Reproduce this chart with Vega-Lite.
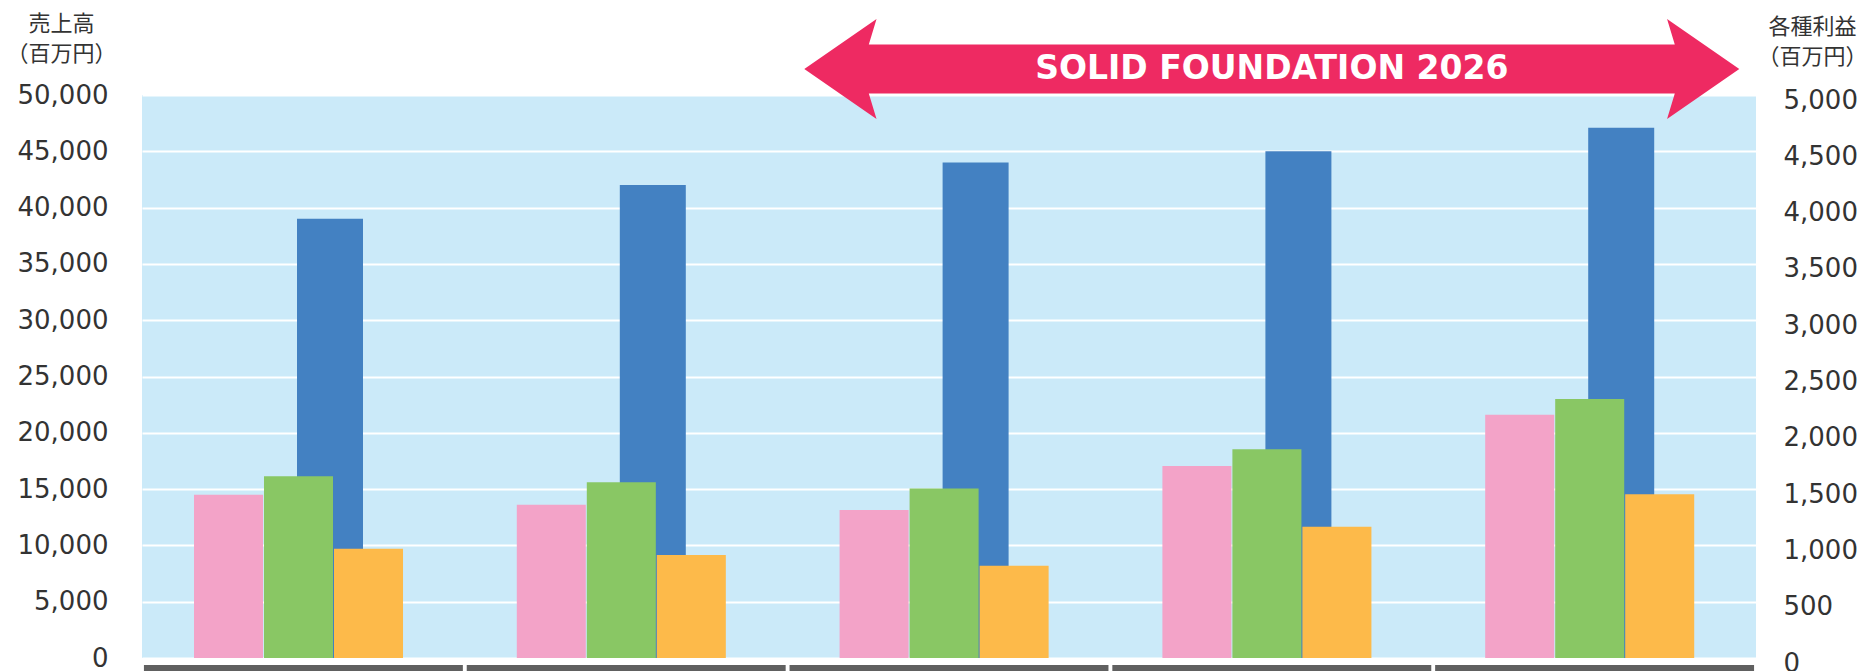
{
  "$schema": "https://vega.github.io/schema/vega-lite/v6.json",
  "width": 1614,
  "height": 563,
  "autosize": "none",
  "padding": {"left": 142, "top": 95, "right": 112, "bottom": 13},
  "background": "white",
  "config": {"view": {"fill": "#CBEAF9", "stroke": null}},
  "data": {"values": [
    {"year": "2022", "series": "売上高", "value": 39000},
    {"year": "2023", "series": "売上高", "value": 42000},
    {"year": "2024", "series": "売上高", "value": 44000},
    {"year": "2025", "series": "売上高", "value": 45000},
    {"year": "2026", "series": "売上高", "value": 47100},
    {"year": "2022", "series": "営業利益", "value": 1450},
    {"year": "2023", "series": "営業利益", "value": 1360},
    {"year": "2024", "series": "営業利益", "value": 1315},
    {"year": "2025", "series": "営業利益", "value": 1705},
    {"year": "2026", "series": "営業利益", "value": 2160},
    {"year": "2022", "series": "経常利益", "value": 1615},
    {"year": "2023", "series": "経常利益", "value": 1560},
    {"year": "2024", "series": "経常利益", "value": 1505},
    {"year": "2025", "series": "経常利益", "value": 1855},
    {"year": "2026", "series": "経常利益", "value": 2300},
    {"year": "2022", "series": "当期純利益", "value": 970},
    {"year": "2023", "series": "当期純利益", "value": 915},
    {"year": "2024", "series": "当期純利益", "value": 820},
    {"year": "2025", "series": "当期純利益", "value": 1165},
    {"year": "2026", "series": "当期純利益", "value": 1455}
  ]},
  "encoding": {
    "x": {"field": "year", "type": "nominal", "scale": {"domain": ["2022", "2023", "2024", "2025", "2026"], "paddingInner": 0, "paddingOuter": 0}, "axis": null}
  },
  "layer": [
    {
      "transform": [{"filter": "datum.series === '売上高'"}],
      "mark": {"type": "bar", "color": "#4381C2"},
      "encoding": {
        "xOffset": {"field": "series", "type": "nominal", "scale": {"paddingInner": 0.486, "paddingOuter": 1, "align": 0.6036}},
        "y": {
          "field": "value", "type": "quantitative", "stack": null,
          "scale": {"domain": [0, 50000], "nice": false},
          "axis": {
            "orient": "left",
            "values": [0, 5000, 10000, 15000, 20000, 25000, 30000, 35000, 40000, 45000, 50000],
            "format": ",d",
            "domain": false, "ticks": false,
            "labelFont": "DejaVu Sans", "labelFontSize": 26, "labelColor": "#333333", "labelPadding": 34,
            "grid": true, "gridColor": "#FFFFFF", "gridWidth": 2,
            "title": ["売上高", "（百万円）"],
            "titleFont": "Noto Sans CJK JP", "titleFontSize": 22, "titleFontWeight": "normal", "titleColor": "#333333",
            "titleAngle": 0, "titleAlign": "center", "titleBaseline": "middle", "titleLineHeight": 30,
            "titleX": -81, "titleY": -72
          }
        }
      }
    },
    {
      "transform": [{"filter": "datum.series !== '売上高'"}],
      "mark": {"type": "bar"},
      "encoding": {
        "xOffset": {"field": "series", "type": "nominal", "sort": ["営業利益", "経常利益", "当期純利益"], "scale": {"paddingInner": 0.014, "paddingOuter": 0.8127, "align": 0.457}},
        "y": {
          "field": "value", "type": "quantitative", "stack": null,
          "scale": {"domain": [0, 5000], "nice": false},
          "axis": {
            "orient": "right",
            "values": [0, 500, 1000, 1500, 2000, 2500, 3000, 3500, 4000, 4500, 5000],
            "format": ",d",
            "domain": false, "ticks": false, "grid": false,
            "labelFont": "DejaVu Sans", "labelFontSize": 26, "labelColor": "#333333", "labelPadding": 27, "labelOffset": 5,
            "title": ["各種利益", "（百万円）"],
            "titleFont": "Noto Sans CJK JP", "titleFontSize": 22, "titleFontWeight": "normal", "titleColor": "#333333",
            "titleAngle": 0, "titleAlign": "center", "titleBaseline": "middle", "titleLineHeight": 30,
            "titleX": 56, "titleY": -69
          }
        },
        "color": {"field": "series", "type": "nominal", "scale": {"domain": ["営業利益", "経常利益", "当期純利益"], "range": ["#F3A3C8", "#89C764", "#FDBA4A"]}, "legend": null}
      }
    },
    {
      "transform": [{"filter": "datum.series === '売上高'"}],
      "mark": {"type": "bar", "color": "#606060", "width": {"band": 0.988}},
      "encoding": {
        "y": {"datum": -620, "type": "quantitative", "scale": {"domain": [0, 50000], "nice": false}, "axis": null},
        "y2": {"datum": -1155}
      }
    },
    {
      "data": {"values": [{"year": "2025", "label": "SOLID FOUNDATION 2026", "level": 52309}]},
      "layer": [
        {
          "mark": {"type": "point", "shape": "M -1 0 L -0.8455 -0.107 L -0.862 -0.0525 L 0.862 -0.0525 L 0.8455 -0.107 L 1 0 L 0.8455 0.107 L 0.862 0.0525 L -0.862 0.0525 L -0.8455 0.107 Z", "size": 874225, "filled": true, "color": "#EE2A62", "opacity": 1, "strokeWidth": 0},
          "encoding": {
            "y": {"field": "level", "type": "quantitative", "scale": {"domain": [0, 50000], "nice": false}, "axis": null}
          }
        },
        {
          "mark": {"type": "text", "font": "DejaVu Sans", "fontWeight": "bold", "fontSize": 33, "letterSpacing": 1.5, "color": "#FFFFFF", "align": "center", "baseline": "middle"},
          "encoding": {
            "y": {"field": "level", "type": "quantitative", "scale": {"domain": [0, 50000], "nice": false}, "axis": null},
            "text": {"field": "label"}
          }
        }
      ],
      "resolve": {"scale": {"y": "shared"}}
    }
  ],
  "resolve": {"scale": {"y": "independent", "xOffset": "independent"}}
}
